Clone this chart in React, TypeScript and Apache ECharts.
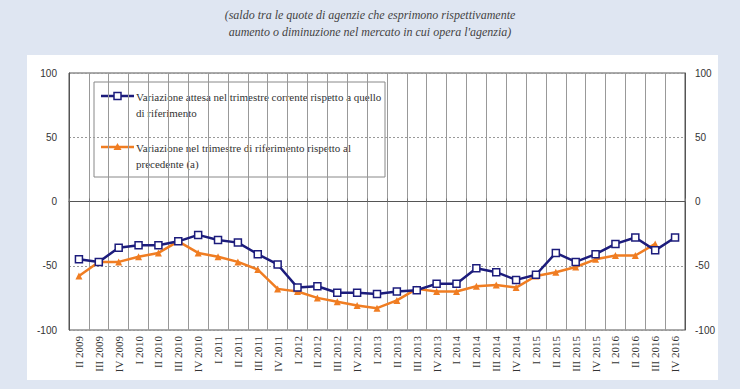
import React, { useEffect, useRef } from "react";
import * as echarts from "echarts";

const categories = [
  "II 2009", "III 2009", "IV 2009",
  "I 2010", "II 2010", "III 2010", "IV 2010",
  "I 2011", "II 2011", "III 2011", "IV 2011",
  "I 2012", "II 2012", "III 2012", "IV 2012",
  "I 2013", "II 2013", "III 2013", "IV 2013",
  "I 2014", "II 2014", "III 2014", "IV 2014",
  "I 2015", "II 2015", "III 2015", "IV 2015",
  "I 2016", "II 2016", "III 2016", "IV 2016",
];

const expectedChange = [
  -45, -47, -36, -34, -34, -31, -26, -30, -32, -41, -49, -67, -66, -71, -71, -72,
  -70, -69, -64, -64, -52, -55, -61, -57, -40, -47, -41, -33, -28, -38, -28,
];

const pastChange = [
  -58, -47, -47, -43, -40, -31, -40, -43, -47, -53, -68, -70, -75, -78, -81, -83,
  -77, -68, -70, -70, -66, -65, -67, -58, -55, -51, -45, -42, -42, -33, null,
];

const seriesNames = [
  "Variazione attesa nel trimestre corrente rispetto a quello\ndi riferimento",
  "Variazione nel trimestre di riferimento rispetto al\nprecedente (a)",
];

const titleLines = [
  "(saldo tra le quote di agenzie che esprimono rispettivamente",
  "aumento o diminuzione nel mercato in cui opera l'agenzia)",
];

const BLUE = "#1c1c7c";
const ORANGE = "#f07d22";

export default function App() {
  const ref = useRef<HTMLDivElement>(null);
  useEffect(() => {
    document.body.style.margin = "0";
    const chart = echarts.init(ref.current!, null, { renderer: "svg" });
    const serif = "Liberation Serif";
    const sans = "Liberation Sans";
    chart.setOption({
      animation: false,
      backgroundColor: "#dfe6f2",
      title: {
        text: titleLines.join("\n"),
        left: "center",
        top: 1,
        textStyle: {
          fontFamily: serif,
          fontStyle: "italic",
          fontWeight: "normal",
          fontSize: 12,
          color: "#444",
          lineHeight: 17,
        },
      },
      graphic: [
        {
          type: "rect",
          z: -10,
          shape: { x: 27, y: 55, width: 691, height: 325 },
          style: { fill: "#ffffff" },
          silent: true,
        },
        {
          type: "group",
          z: 100,
          children: [
            {
              type: "rect",
              shape: { x: 94, y: 82, width: 291, height: 95 },
              style: { fill: "#ffffff", stroke: "#888", lineWidth: 1 },
            },
            {
              type: "line",
              shape: { x1: 101, y1: 96, x2: 134, y2: 96 },
              style: { stroke: BLUE, lineWidth: 2.5 },
            },
            {
              type: "rect",
              shape: { x: 114, y: 92.5, width: 7, height: 7 },
              style: { fill: "#fff", stroke: BLUE, lineWidth: 1.5 },
            },
            {
              type: "text",
              x: 136,
              y: 89,
              style: {
                text: seriesNames[0],
                fontFamily: serif,
                fontSize: 11,
                fill: "#333",
                lineHeight: 16,
              },
            },
            {
              type: "line",
              shape: { x1: 101, y1: 147, x2: 134, y2: 147 },
              style: { stroke: ORANGE, lineWidth: 2.5 },
            },
            {
              type: "polygon",
              shape: { points: [[117.5, 143], [121.5, 150], [113.5, 150]] },
              style: { fill: ORANGE },
            },
            {
              type: "text",
              x: 136,
              y: 140,
              style: {
                text: seriesNames[1],
                fontFamily: serif,
                fontSize: 11,
                fill: "#333",
                lineHeight: 16,
              },
            },
          ],
        },
      ],
      grid: {
        left: 69,
        right: 55,
        top: 73,
        bottom: 59,
        show: true,
        backgroundColor: "#ffffff",
        borderColor: "#555",
        borderWidth: 1,
      },
      xAxis: {
        type: "category",
        data: categories,
        boundaryGap: true,
        axisLine: { show: true, lineStyle: { color: "#555" } },
        axisTick: { show: true, inside: true, length: 3, lineStyle: { color: "#777" } },
        splitLine: { show: true, lineStyle: { color: "#999", width: 1 } },
        axisLabel: {
          interval: 0,
          rotate: 90,
          margin: 6,
          fontFamily: serif,
          fontSize: 11,
          color: "#333",
        },
      },
      yAxis: [
        {
          type: "value",
          min: -100,
          max: 100,
          interval: 50,
          position: "left",
          axisLine: { show: true, lineStyle: { color: "#555" } },
          axisTick: { show: false },
          splitLine: { show: true, lineStyle: { color: "#999", type: [2, 2] } },
          axisLabel: { fontFamily: sans, fontSize: 10, color: "#333", margin: 12 },
        },
        {
          type: "value",
          min: -100,
          max: 100,
          interval: 50,
          position: "right",
          axisLine: { show: true, lineStyle: { color: "#555" } },
          axisTick: { show: false },
          splitLine: { show: false },
          axisLabel: { fontFamily: sans, fontSize: 10, color: "#333", margin: 10 },
        },
      ],
      series: [
        {
          name: seriesNames[0],
          type: "line",
          data: expectedChange,
          yAxisIndex: 0,
          z: 4,
          lineStyle: { color: BLUE, width: 2.5 },
          itemStyle: { color: "#ffffff", borderColor: BLUE, borderWidth: 1.5 },
          symbol: "rect",
          symbolSize: 7,
        },
        {
          name: seriesNames[1],
          type: "line",
          data: pastChange,
          yAxisIndex: 0,
          z: 3,
          lineStyle: { color: ORANGE, width: 2.5 },
          itemStyle: { color: ORANGE },
          symbol: "triangle",
          symbolSize: 7,
        },
      ],
    });
    return () => chart.dispose();
  }, []);
  return (
    <div
      ref={ref}
      style={{ position: "absolute", left: 0, top: 0, width: 740, height: 389 }}
    />
  );
}
